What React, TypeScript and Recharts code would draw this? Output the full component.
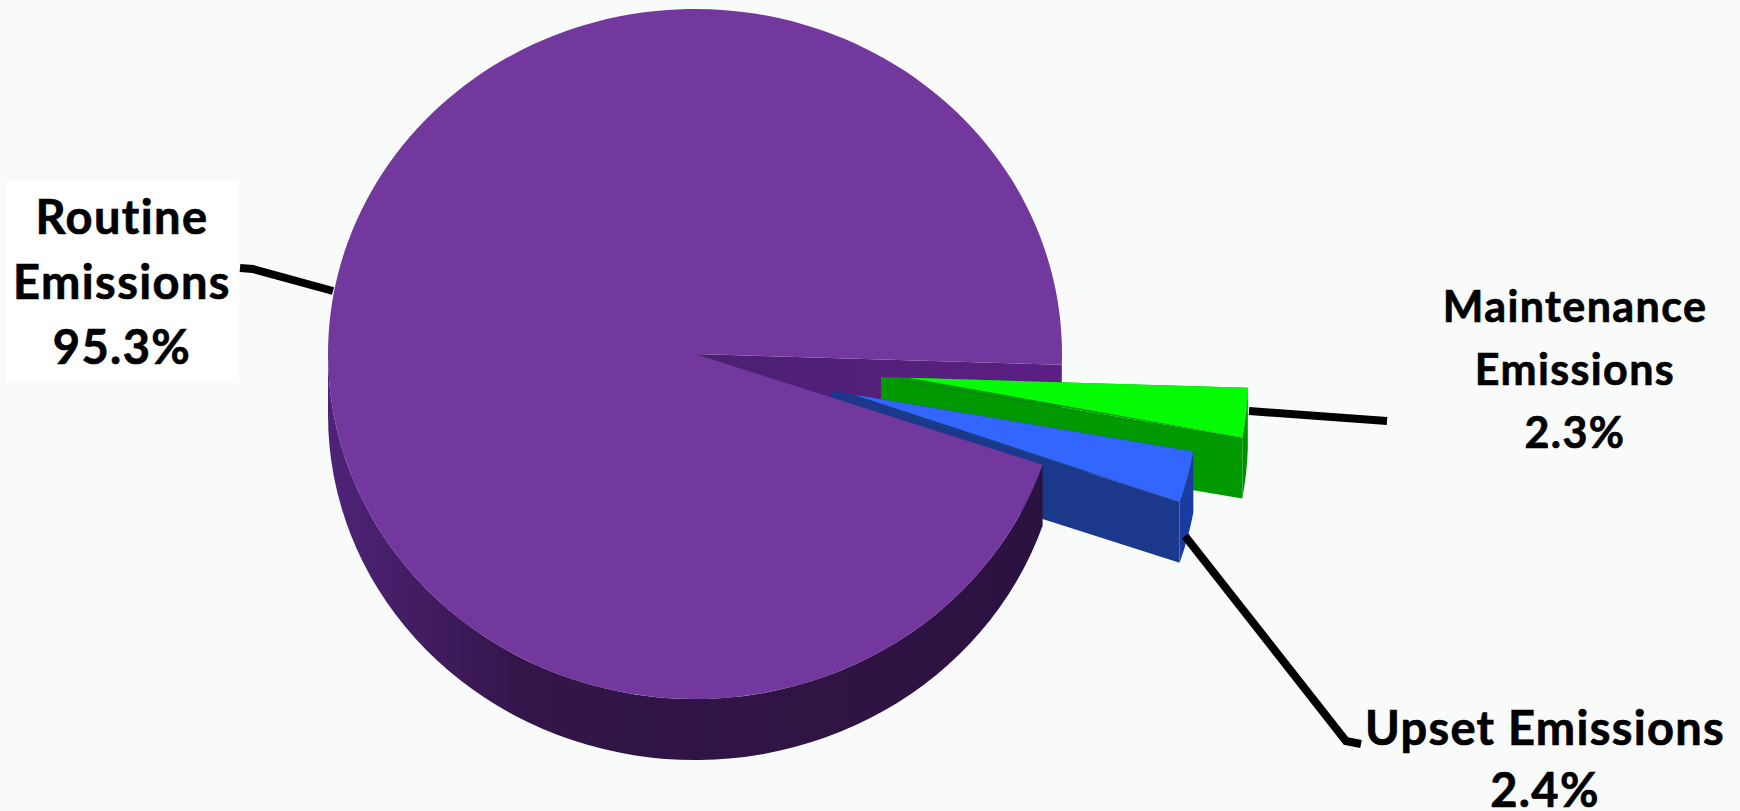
// Emissions share pie, tilted 3D look with two pulled-out slices
import { PieChart, Pie } from 'recharts'

const categories = ['Routine Emissions', 'Upset Emissions', 'Maintenance Emissions']
const shares = [95.3, 2.4, 2.3]
const labelLines = [['Routine', 'Emissions'], ['Upset Emissions'], ['Maintenance', 'Emissions']]

const slices = categories.map((category, i) => ({ category, share: shares[i] }))

const WIDTH = 1740
const HEIGHT = 811
const PAGE_BG = '#f9fbfb'
const CX = 695
const CY = 354
const RADIUS = 367
const TILT = 0.94 // vertical squash of the top face
const DEPTH = 61
const START_ANGLE = -1.8

const explode: Record<string, { dx: number; dy: number; tip: number }> = {
  'Routine Emissions': { dx: 0, dy: 0, tip: 0 },
  'Upset Emissions': { dx: 137, dy: 37, tip: 22 },
  'Maintenance Emissions': { dx: 186, dy: 23, tip: 28 },
}

const colors: Record<string, { top: string; side: string; rim: string }> = {
  'Routine Emissions': { top: '#72389e', side: 'url(#wedgeWall)', rim: 'url(#outerWall)' },
  'Upset Emissions': { top: '#3366ff', side: '#1b388c', rim: '#1a3ca0' },
  'Maintenance Emissions': { top: '#04fc04', side: '#009a00', rim: '#008f00' },
}

const callouts: Record<string, any> = {
  'Routine Emissions': {
    x: 122, y: 234, size: 47, spacing: 1.4, step: 65,
    box: { x: 6, y: 180, width: 233, height: 203 },
    leader: [[333, 291], [253, 269], [240, 268]],
  },
  'Upset Emissions': {
    x: 1545, y: 745, size: 47, spacing: 1.3, step: 62,
    leader: [[1185, 536], [1346, 741], [1361, 744]],
  },
  'Maintenance Emissions': {
    x: 1575, y: 322, size: 43, spacing: 1.4, step: 63,
    leader: [[1249, 411], [1387, 421]],
  },
}

function geometry(props: any) {
  const { dx, dy, tip } = explode[props.category]
  const ox = props.cx + dx
  const oy = props.cy + dy
  const r = props.outerRadius
  const at = (deg: number, drop = 0) => {
    const a = (deg * Math.PI) / 180
    return [ox + r * Math.cos(a), oy - r * TILT * Math.sin(a) + drop].map(n => n.toFixed(2)).join(' ')
  }
  const arc = (to: number, large: boolean, sweep: number) =>
    `A ${r} ${r * TILT} 0 ${large ? 1 : 0} ${sweep} ${at(to, sweep ? DEPTH : 0)}`
  return { ox, oy, tip, at, arc }
}

function topFace(props: any) {
  const { ox, oy, tip, at, arc } = geometry(props)
  const { startAngle: s, endAngle: e } = props
  const c = colors[props.category]
  // the bright face stops short of the centre, sliding back along its upper edge
  const rad = (e * Math.PI) / 180
  const tipX = ox + tip
  const tipY = oy - tip * TILT * Math.tan(rad)
  const outline = `L ${at(s)} ${arc(e, e - s > 180, 0)} Z`
  return (
    <g>
      {tip > 0 && <path d={`M ${ox} ${oy} ${outline}`} fill={c.side} />}
      <path d={`M ${tipX.toFixed(2)} ${tipY.toFixed(2)} ${outline}`} fill={c.top} />
    </g>
  )
}

// wall along a radial cut, running from the centre out to the rim
function radialWall(props: any) {
  const { ox, oy, at } = geometry(props)
  const s = props.startAngle
  return (
    <path
      d={`M ${ox} ${oy} L ${at(s)} L ${at(s, DEPTH)} L ${ox} ${oy + DEPTH} Z`}
      fill={colors[props.category].side}
    />
  )
}

// curved outer wall, only the part that faces the viewer
function rimWall(props: any) {
  const { at, arc } = geometry(props)
  const from = props.category === categories[0] ? 180 : props.startAngle
  const to = props.endAngle
  return (
    <path
      d={`M ${at(from)} ${arc(to, false, 0)} L ${at(to, DEPTH)} ${arc(from, false, 1)} Z`}
      fill={colors[props.category].rim}
    />
  )
}

const wedgeWallShape = (props: any) => (props.category === categories[0] ? radialWall(props) : <g />)

const sliceShape = (category: string) => (props: any) =>
  props.category === category ? (
    <g>
      {rimWall(props)}
      {radialWall(props)}
      {topFace(props)}
    </g>
  ) : (
    <g />
  )

const bodyShape = (props: any) =>
  props.category === categories[0] ? (
    <g>
      {rimWall(props)}
      {topFace(props)}
    </g>
  ) : (
    <g />
  )

function renderCallout(props: any) {
  const i = categories.indexOf(props.category)
  const c = callouts[props.category]
  const lines = [...labelLines[i], `${shares[i]}%`]
  return (
    <g key={props.category}>
      {c.box && <rect {...c.box} fill="#ffffff" />}
      <polyline
        points={c.leader.map((p: number[]) => p.join(',')).join(' ')}
        fill="none"
        stroke="#000000"
        strokeWidth={8}
      />
      <text
        x={c.x}
        y={c.y}
        textAnchor="middle"
        fontFamily="Lato, sans-serif"
        fontWeight={700}
        fontSize={c.size}
        letterSpacing={c.spacing}
        stroke="#000000"
        strokeWidth={0.7}
        fill="#000000"
      >
        {lines.map((line, n) => (
          <tspan key={line} x={c.x} y={c.y + n * c.step}>
            {line}
          </tspan>
        ))}
      </text>
    </g>
  )
}

const pieProps = {
  data: slices,
  dataKey: 'share',
  nameKey: 'category',
  cx: CX,
  cy: CY,
  outerRadius: RADIUS,
  startAngle: START_ANGLE,
  endAngle: START_ANGLE + 360,
  stroke: 'none',
  isAnimationActive: false,
  labelLine: false,
}

export default function App() {
  return (
    <div style={{ position: 'absolute', left: 0, top: 0, width: WIDTH, height: HEIGHT, background: PAGE_BG, overflow: 'hidden' }}>
      <PieChart width={WIDTH} height={HEIGHT} margin={{ top: 0, right: 0, bottom: 0, left: 0 }}>
        <defs>
          <linearGradient id="outerWall" gradientUnits="userSpaceOnUse" x1="327" y1="0" x2="1045" y2="0">
            <stop offset="0" stopColor="#4f2378" />
            <stop offset="0.28" stopColor="#331548" />
            <stop offset="1" stopColor="#2c1240" />
          </linearGradient>
          <linearGradient id="wedgeWall" gradientUnits="userSpaceOnUse" x1="695" y1="0" x2="1062" y2="0">
            <stop offset="0" stopColor="#4a2070" />
            <stop offset="1" stopColor="#5c1f84" />
          </linearGradient>
        </defs>
        <Pie {...pieProps} shape={wedgeWallShape} />
        <Pie {...pieProps} shape={sliceShape(categories[2])} />
        <Pie {...pieProps} shape={sliceShape(categories[1])} />
        <Pie {...pieProps} shape={bodyShape} label={renderCallout} />
      </PieChart>
    </div>
  )
}
